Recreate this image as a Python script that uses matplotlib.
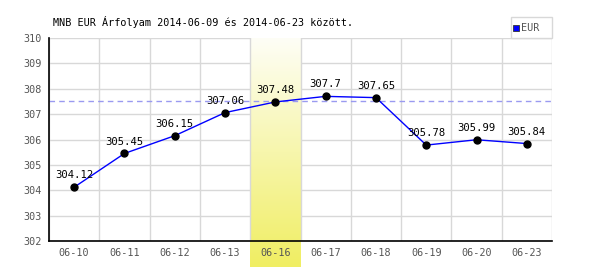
import matplotlib.pyplot as plt
import numpy as np

dates = ['06-10', '06-11', '06-12', '06-13', '06-16',
         '06-17', '06-18', '06-19', '06-20', '06-23']
eur = [304.12, 305.45, 306.15, 307.06, 307.48, 307.7, 307.65, 305.78, 305.99, 305.84]
avg_line = 307.5
highlight = '06-16'
title = 'MNB EUR Árfolyam 2014-06-09 és 2014-06-23 között.'

plt.rcParams['font.family'] = ['DejaVu Sans Mono']

fig = plt.figure(figsize=(6, 2.7), dpi=100)
ax = fig.add_axes([49 / 600, 1 - 241 / 270, 503 / 600, 203 / 270])

x = np.arange(len(dates))
ax.set_xlim(-0.5, len(dates) - 0.5)
ax.set_ylim(302, 310)

# yellow gradient behind the highlighted day, runs below the axis
hi = dates.index(highlight)
grad = np.linspace(0, 1, 256).reshape(-1, 1)
top = np.array([254, 254, 246]) / 255
bot = np.array([240, 238, 98]) / 255
img = top + (bot - top) * grad[..., None]
ax.imshow(img.reshape(256, 1, 3), extent=[hi - 0.5, hi + 0.5, 300.98, 310],
          aspect='auto', origin='upper', clip_on=False, zorder=0.7)

ax.set_xticks(x)
ax.set_xticklabels(dates)
ax.set_yticks(range(302, 311))
ax.tick_params(which='both', length=0, labelsize=7.3, colors='#555555', pad=5)

# grid: horizontal below the highlight, vertical above it
for yv in range(302, 311):
    ax.axhline(yv, color='#d8d8d8', lw=1, zorder=0.5)
for xv in np.arange(len(dates) + 1) - 0.5:
    ax.axvline(xv, color='#d8d8d8', lw=1, zorder=0.8)

for s in ['top', 'right']:
    ax.spines[s].set_visible(False)
for s in ['left', 'bottom']:
    ax.spines[s].set_color('black')
    ax.spines[s].set_linewidth(1.2)

ax.axhline(avg_line, color='#9a9af0', lw=1, ls=(0, (4, 3)), zorder=2)

ax.plot(x, eur, color='blue', lw=1, marker='o', ms=5,
        markerfacecolor='black', markeredgecolor='black', zorder=3)
for xi, v in zip(x, eur):
    ax.annotate(f'{v:g}', (xi, v), xytext=(0, 5), textcoords='offset points',
                ha='center', va='bottom', fontsize=7.6, color='black')

fig.text(53 / 600, 1 - 22 / 270, title, fontsize=7.3, va='center', ha='left')

# legend box
lx0, ly0 = 511 / 600, 1 - 38 / 270
fig.patches.append(plt.Rectangle((lx0, ly0), 41 / 600, 21 / 270,
                                 transform=fig.transFigure, fc='white',
                                 ec='#d8d8d8', lw=1))
fig.patches.append(plt.Rectangle((513 / 600, 1 - 31 / 270), 6 / 600, 6 / 270,
                                 transform=fig.transFigure, fc='blue',
                                 ec='#333333', lw=0.6))
fig.text(521 / 600, 1 - 28 / 270, 'EUR', fontsize=7.3, color='#555555',
         va='center', ha='left')

fig.savefig('out.png', dpi=100)
